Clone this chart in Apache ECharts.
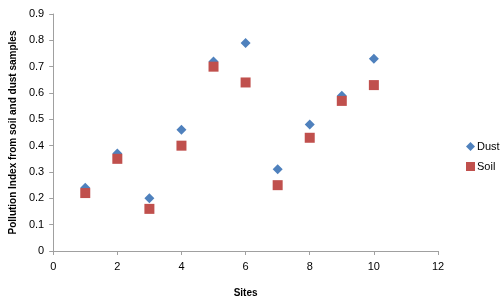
<!DOCTYPE html>
<html>
<head>
<meta charset="UTF-8">
<title></title>
<style>
  html, body { margin: 0; padding: 0; background: #fff; }
  #main { width: 500px; height: 303px; }
</style>
</head>
<body>
<div id="main"></div>
<script src="https://cdn.jsdelivr.net/npm/echarts@6/dist/echarts.min.js"></script>
<script type="text/javascript">
  var sites = [1, 2, 3, 4, 5, 6, 7, 8, 9, 10];
  var dustValues = [0.24, 0.37, 0.20, 0.46, 0.72, 0.79, 0.31, 0.48, 0.59, 0.73];
  var soilValues = [0.22, 0.35, 0.16, 0.40, 0.70, 0.64, 0.25, 0.43, 0.57, 0.63];

  function pairs(xs, ys) {
    var out = [];
    for (var i = 0; i < xs.length; i++) {
      out.push([xs[i], ys[i]]);
    }
    return out;
  }

  var font = 'Liberation Sans';
  var myChart = echarts.init(document.getElementById('main'));
  var option = {
    animation: false,
    textStyle: { fontFamily: font },
    grid: { left: 50, right: 62, top: 14, bottom: 52 },
    legend: {
      orient: 'vertical',
      left: 461,
      top: 136,
      itemWidth: 9,
      itemHeight: 9,
      itemGap: 9,
      textStyle: { fontSize: 11, color: '#000', fontFamily: font, padding: [0, 0, 0, -3] },
      data: [
        { name: 'Dust', icon: 'diamond' },
        { name: 'Soil', icon: 'rect' }
      ]
    },
    xAxis: {
      type: 'value',
      min: 0,
      max: 12,
      interval: 2,
      name: 'Sites',
      nameLocation: 'middle',
      nameGap: 37,
      nameTextStyle: { fontWeight: 'bold', fontSize: 10, color: '#000' },
      axisLine: { lineStyle: { color: '#a0a0a0' } },
      axisTick: { show: true, length: 4, lineStyle: { color: '#a0a0a0' } },
      axisLabel: { fontSize: 11, color: '#000', margin: 10 },
      splitLine: { show: false }
    },
    yAxis: {
      type: 'value',
      min: 0,
      max: 0.9,
      interval: 0.1,
      name: 'Pollution Index from soil and dust samples',
      nameLocation: 'middle',
      nameGap: 34,
      nameTextStyle: { fontWeight: 'bold', fontSize: 10, color: '#000' },
      axisLine: { show: true, lineStyle: { color: '#a0a0a0' } },
      axisTick: { show: true, length: 4, lineStyle: { color: '#a0a0a0' } },
      axisLabel: { fontSize: 11, color: '#000', margin: 9 },
      splitLine: { show: false }
    },
    series: [{
      name: 'Dust',
      type: 'scatter',
      symbol: 'diamond',
      symbolSize: 10,
      itemStyle: { color: '#4f81bd', opacity: 1 },
      data: pairs(sites, dustValues)
    }, {
      name: 'Soil',
      type: 'scatter',
      symbol: 'rect',
      symbolSize: 10,
      itemStyle: { color: '#c0504d', opacity: 1 },
      data: pairs(sites, soilValues)
    }]
  };
  myChart.setOption(option);
</script>
</body>
</html>
